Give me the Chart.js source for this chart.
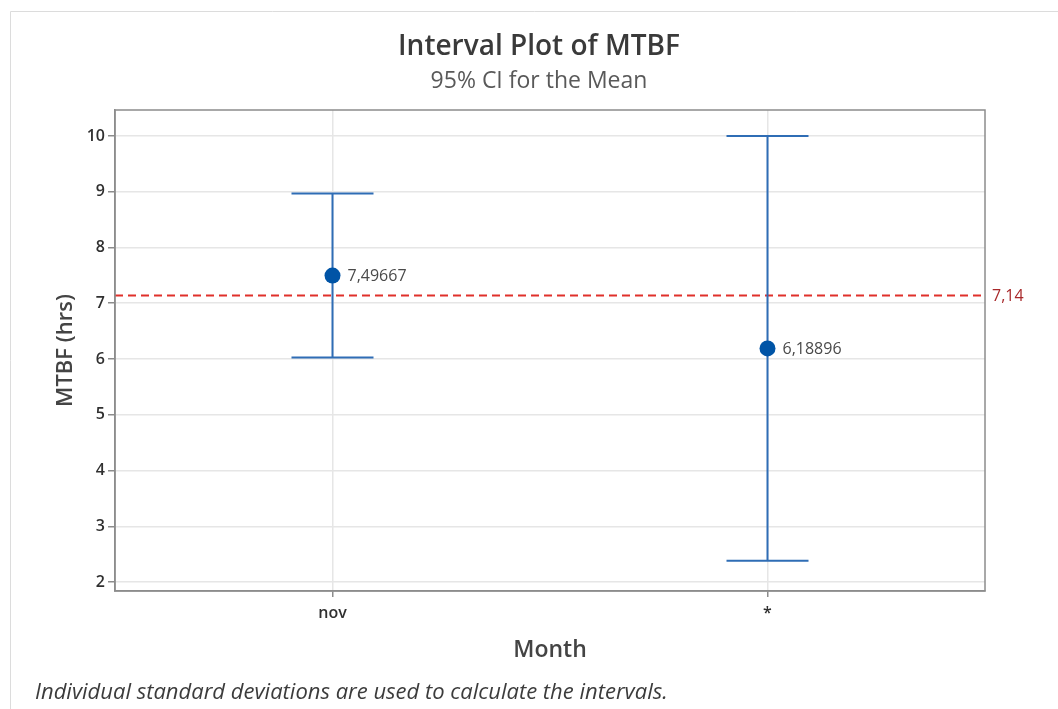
<!DOCTYPE html>
<html>
<head>
<meta charset="utf-8">
<title>Interval Plot of MTBF</title>
<script src="https://cdn.jsdelivr.net/npm/chart.js@4/dist/chart.umd.min.js"></script>
<style>
  html, body { margin: 0; padding: 0; background: #ffffff; }
  #wrap { position: relative; width: 1058px; height: 709px; }
</style>
</head>
<body>
<div id="wrap"><canvas id="chart" width="1058" height="709"></canvas></div>
<script>
// Interval plot: mean MTBF per month with 95% confidence intervals
const categories = ['nov', '*'];
const means = [7.49667, 6.18896];
const ciLower = [6.025, 2.38];
const ciUpper = [8.968, 10.00];
const referenceValue = 7.14;
const yTicks = [2, 3, 4, 5, 6, 7, 8, 9, 10];

const FONT = '"Open Sans", "Noto Sans", "DejaVu Sans", sans-serif';
const fmt = v => String(v).replace('.', ',');

// Frame, titles and footnote around the plot
const decorations = {
  id: 'decorations',
  beforeDraw(chart) {
    const ctx = chart.ctx;
    ctx.save();
    ctx.fillStyle = '#ffffff';
    ctx.fillRect(0, 0, chart.width, chart.height);
    ctx.strokeStyle = '#dcdcdc';
    ctx.lineWidth = 1;
    ctx.beginPath();
    ctx.moveTo(10.5, chart.height);
    ctx.lineTo(10.5, 11.5);
    ctx.lineTo(chart.width, 11.5);
    ctx.stroke();
    ctx.restore();
  },
  afterDraw(chart) {
    const ctx = chart.ctx;
    const a = chart.chartArea;
    const cx = (a.left + a.right) / 2 - 11;
    ctx.save();
    // plot border, all four sides
    ctx.strokeStyle = '#8c8c8c';
    ctx.lineWidth = 1.5;
    ctx.strokeRect(a.left, a.top, a.right - a.left, a.bottom - a.top);

    ctx.textAlign = 'center';
    ctx.textBaseline = 'middle';
    ctx.fillStyle = '#3a3a3a';
    ctx.font = '600 28px ' + FONT;
    ctx.fillText('Interval Plot of MTBF', cx, 47);
    ctx.fillStyle = '#595959';
    ctx.font = '400 23px ' + FONT;
    ctx.fillText('95% CI for the Mean', cx, 81);

    ctx.textAlign = 'left';
    ctx.fillStyle = '#3c3c3c';
    ctx.font = 'italic 400 22px ' + FONT;
    ctx.fillText('Individual standard deviations are used to calculate the intervals.', 35, 693);
    ctx.restore();
  }
};

// Reference line, confidence-interval whiskers and value labels
const intervals = {
  id: 'intervals',
  beforeDatasetsDraw(chart) {
    const ctx = chart.ctx;
    const x = chart.scales.x, y = chart.scales.y;
    const a = chart.chartArea;
    ctx.save();
    // reference line
    const ry = y.getPixelForValue(referenceValue);
    ctx.strokeStyle = '#e0302b';
    ctx.lineWidth = 2;
    ctx.setLineDash([8, 5]);
    ctx.beginPath();
    ctx.moveTo(a.left, ry);
    ctx.lineTo(a.right, ry);
    ctx.stroke();
    ctx.setLineDash([]);
    ctx.fillStyle = '#a8282a';
    ctx.font = '500 16px ' + FONT;
    ctx.textAlign = 'left';
    ctx.textBaseline = 'middle';
    ctx.fillText(fmt(referenceValue), a.right + 7, ry + 1);

    // whiskers
    ctx.strokeStyle = '#2f6db5';
    ctx.lineWidth = 2;
    const cap = 41;
    categories.forEach((c, i) => {
      const px = x.getPixelForValue(i);
      const yl = y.getPixelForValue(ciLower[i]);
      const yu = y.getPixelForValue(ciUpper[i]);
      ctx.beginPath();
      ctx.moveTo(px, yl); ctx.lineTo(px, yu);
      ctx.moveTo(px - cap, yu); ctx.lineTo(px + cap, yu);
      ctx.moveTo(px - cap, yl); ctx.lineTo(px + cap, yl);
      ctx.stroke();
    });
    ctx.restore();
  },
  afterDatasetsDraw(chart) {
    const ctx = chart.ctx;
    const x = chart.scales.x, y = chart.scales.y;
    ctx.save();
    ctx.fillStyle = '#4a4a4a';
    ctx.font = '400 16px ' + FONT;
    ctx.textAlign = 'left';
    ctx.textBaseline = 'middle';
    means.forEach((m, i) => {
      ctx.fillText(fmt(m), x.getPixelForValue(i) + 15, y.getPixelForValue(m) + 1);
    });
    ctx.restore();
  }
};

new Chart(document.getElementById('chart'), {
  type: 'line',
  data: {
    labels: categories,
    datasets: [{
      label: 'Mean',
      data: means,
      showLine: false,
      pointRadius: 8,
      pointBackgroundColor: '#0054a6',
      pointBorderColor: '#0054a6',
      pointBorderWidth: 0
    }]
  },
  options: {
    responsive: false,
    animation: false,
    events: [],
    layout: { padding: { top: 110, right: 73, bottom: 39, left: 45 } },
    plugins: {
      legend: { display: false },
      tooltip: { enabled: false },
      title: { display: false }
    },
    scales: {
      x: {
        type: 'category',
        offset: true,
        afterFit(scale) { scale.height = 79; },
        grid: {
          color: '#e6e6e6',
          lineWidth: 1.5,
          tickColor: '#8c8c8c',
          tickLength: 6,
          offset: false
        },
        border: { color: '#8c8c8c', width: 1.5 },
        ticks: {
          color: '#303030',
          padding: 7,
          font: { family: FONT, size: 16, weight: '600' }
        },
        title: {
          display: true,
          text: 'Month',
          color: '#444444',
          font: { family: FONT, size: 23, weight: '600' },
          padding: { top: 0, bottom: 6 }
        }
      },
      y: {
        min: 1.839,
        max: 10.466,
        afterFit(scale) { scale.width = 70; },
        afterBuildTicks(scale) { scale.ticks = yTicks.map(v => ({ value: v })); },
        grid: {
          color: '#e6e6e6',
          lineWidth: 1.5,
          tickColor: '#8c8c8c',
          tickLength: 7
        },
        border: { color: '#8c8c8c', width: 1.5 },
        ticks: {
          color: '#303030',
          padding: 3,
          font: { family: FONT, size: 16, weight: '600' }
        },
        title: {
          display: true,
          text: 'MTBF (hrs)',
          color: '#444444',
          font: { family: FONT, size: 22, weight: '600' },
          padding: { top: 8, bottom: 0 }
        }
      }
    }
  },
  plugins: [decorations, intervals]
});
</script>
</body>
</html>
